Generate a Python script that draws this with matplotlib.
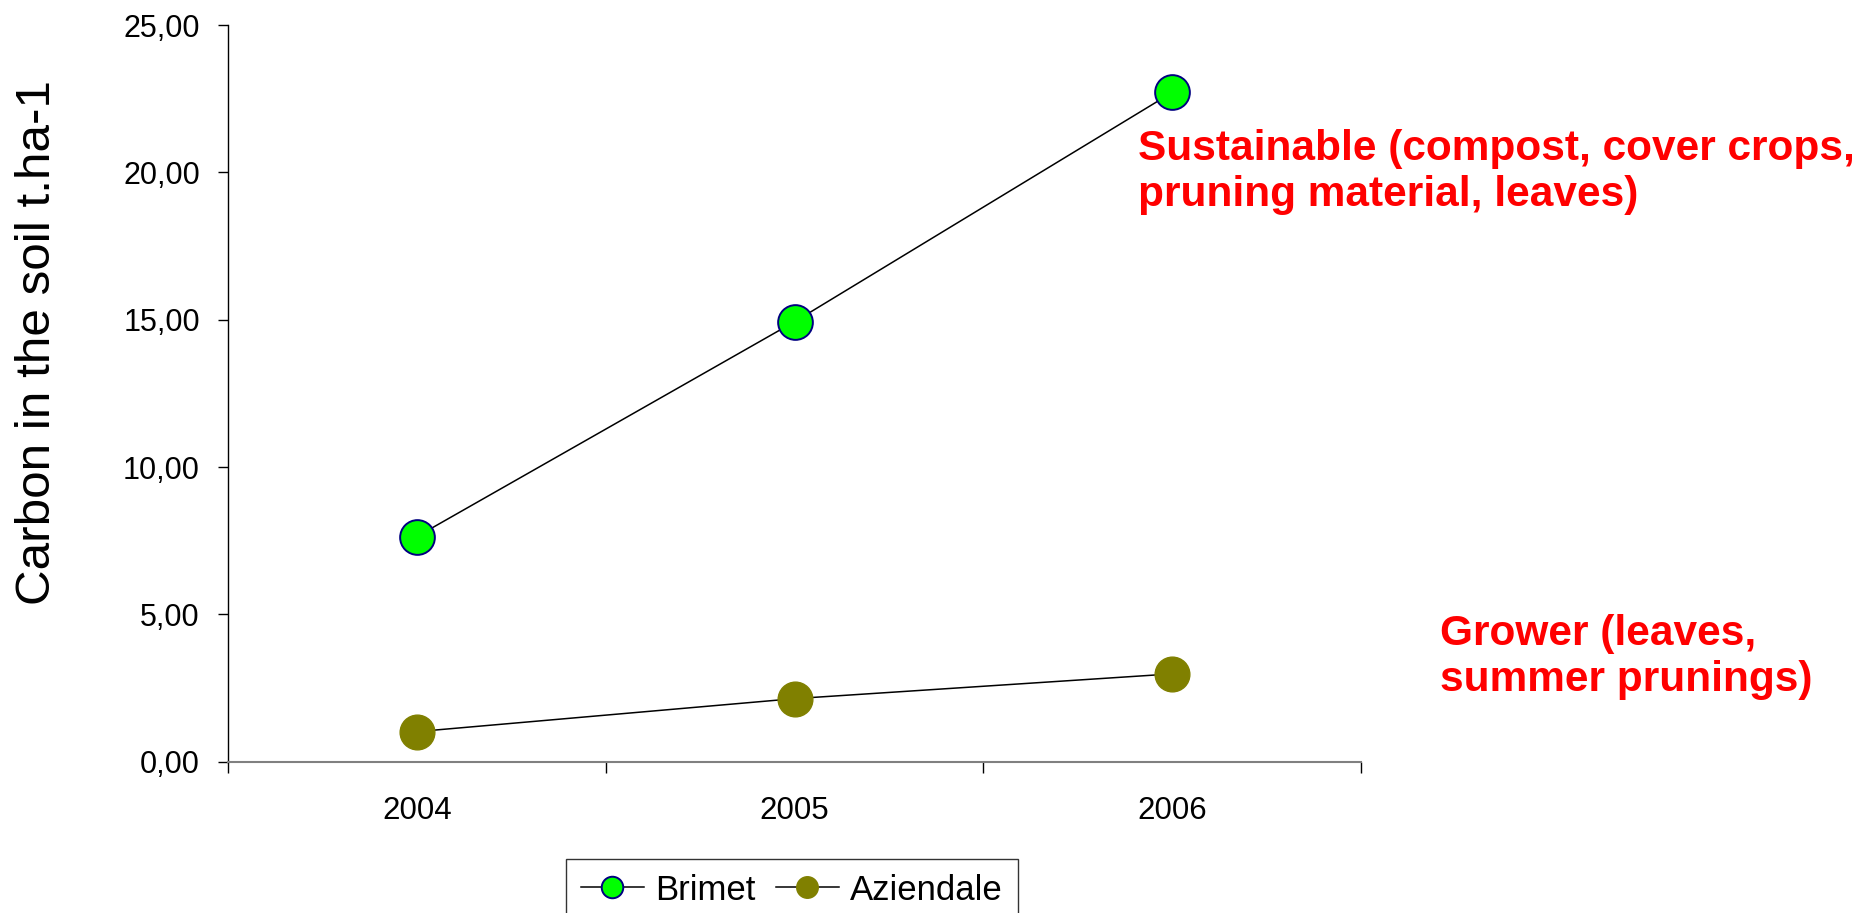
import matplotlib
matplotlib.use("Agg")
import matplotlib.pyplot as plt
from matplotlib.ticker import FuncFormatter, FixedLocator

plt.rcParams['font.family'] = ['Liberation Sans', 'DejaVu Sans']

# data
years = ['2004', '2005', '2006']
brimet = [7.64, 14.93, 22.71]
aziendale = [1.02, 2.14, 2.98]
y_ticks = [0, 5, 10, 15, 20, 25]
note_sust = "Sustainable (compost, cover crops,\npruning material, leaves)"
note_grow = "Grower (leaves,\nsummer prunings)"

fig = plt.figure(figsize=(18.63, 9.13), dpi=100)
ax = fig.add_axes([228/1863, 1 - 761.7/913, (1361 - 228)/1863, (761.7 - 25)/913])

xs = list(range(len(years)))
ax.plot(xs, brimet, color='black', lw=1.1, marker='o', ms=25,
        mfc='#00FF00', mec='#000080', mew=1.4, label='Brimet', zorder=3)
ax.plot(xs, aziendale, color='black', lw=1.1, marker='o', ms=25,
        mfc='#808000', mec='#808000', mew=1.0, label='Aziendale', zorder=3)

ax.set_xlim(-0.5, len(years) - 0.5)
ax.set_ylim(0, 25)

# category boundaries as ticks, labels centred between them
ax.xaxis.set_major_locator(FixedLocator([i - 0.5 for i in range(len(years) + 1)]))
ax.xaxis.set_minor_locator(FixedLocator(xs))
ax.set_xticklabels([], minor=False)
ax.set_xticklabels(years, minor=True)
ax.tick_params(axis='x', which='major', direction='out', length=8, width=1, color='black')
ax.tick_params(axis='x', which='minor', length=0, pad=25, labelsize=22.5)

ax.set_yticks(y_ticks)
ax.yaxis.set_major_formatter(FuncFormatter(lambda v, p: f"{v:.2f}".replace('.', ',')))
ax.tick_params(axis='y', direction='out', length=7.2, width=1, color='black',
               pad=13, labelsize=22)

for s in ['top', 'right']:
    ax.spines[s].set_visible(False)
ax.spines['left'].set_color('black')
ax.spines['left'].set_linewidth(1)
ax.spines['bottom'].set_color('#808080')
ax.spines['bottom'].set_linewidth(1.5)

fig.text(38/1863, 1 - 343/913, "Carbon in the soil t.ha-1", rotation=90,
         ha='center', va='center', fontsize=35.6)

fig.text(1138/1863, 1 - 129/913, note_sust, color='#FF0000', fontsize=30.5,
         fontweight='bold', ha='left', va='top', linespacing=1.18)
fig.text(1440/1863, 1 - 614/913, note_grow, color='#FF0000', fontsize=30.5,
         fontweight='bold', ha='left', va='top', linespacing=1.18)

# legend box runs off the bottom edge, as in the original
leg = fig.legend(loc='upper center', bbox_to_anchor=((568 + 1016) / 2 / 1863, 1 - 859/913),
                 ncol=2, fontsize=25, frameon=True, fancybox=False, shadow=False,
                 markerscale=0.62, handlelength=1.8, handletextpad=0.33,
                 columnspacing=0.6, borderpad=0.42, borderaxespad=0)
leg.get_frame().set_edgecolor('black')
leg.get_frame().set_linewidth(1)

fig.savefig('out.png', dpi=100, facecolor='white')
